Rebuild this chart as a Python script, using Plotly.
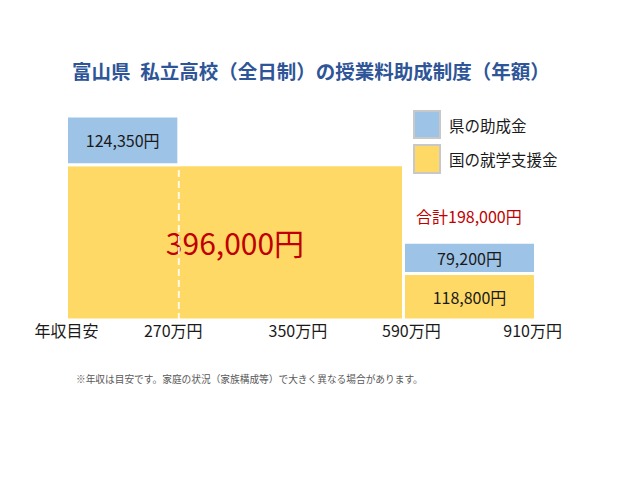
import plotly.graph_objects as go

# schematic income axis (bracket units)
income_labels = ["年収目安", "270万円", "350万円", "590万円", "910万円"]
label_pos = [0, 0.95, 2.06, 3.07, 4.15]

# 国の就学支援金
national_aid = [396000, 118800]
national_from = [0, 3]
national_to = [3, 4.175]

# 県の助成金 (stacked on top of the national aid)
pref_aid = [124350, 79200]
pref_from = [0, 3]
pref_to = [1, 4.175]

BLUE = "#9DC3E6"
YELLOW = "#FFD966"
RED = "#C00000"
FONT = "Noto Sans CJK JP"

W, H = 640, 480
OFF = 8  # page body margin
ML, MR, MT, MB = 36 - OFF, 36 + OFF, 100 - OFF, 160 + OFF


def px_x(px):
    return (px - OFF - ML) / (W - ML - MR)


def px_y(py):
    return (H - MB - (py - OFF)) / (H - MT - MB)


def yen(v):
    return f"{v:,}円"


fig = go.Figure()

fig.add_bar(
    x=[(a + b) / 2 for a, b in zip(national_from, national_to)],
    width=[b - a for a, b in zip(national_from, national_to)],
    y=national_aid,
    base=[0] * len(national_aid),
    marker=dict(color=YELLOW, line=dict(color="white", width=3)),
    text=[yen(v) for v in national_aid],
    textposition="inside",
    insidetextanchor="middle",
    textangle=0,
    constraintext="none",
    textfont=dict(family=FONT, size=[30, 16], color=[RED, "#1a1a1a"]),
    hoverinfo="skip",
    name="国の就学支援金",
)

fig.add_bar(
    x=[(a + b) / 2 for a, b in zip(pref_from, pref_to)],
    width=[b - a for a, b in zip(pref_from, pref_to)],
    y=pref_aid,
    base=national_aid,
    marker=dict(color=BLUE, line=dict(color="white", width=3)),
    text=[yen(v) for v in pref_aid],
    textposition="inside",
    insidetextanchor="middle",
    textangle=0,
    constraintext="none",
    textfont=dict(family=FONT, size=16, color="#1a1a1a"),
    hoverinfo="skip",
    name="県の助成金",
)

# dashed boundary inside the big yellow block
fig.add_shape(
    type="line", xref="x", yref="y",
    x0=pref_to[0], x1=pref_to[0], y0=0, y1=national_aid[0],
    line=dict(color="rgba(255,255,255,0.85)", width=2, dash="7px,4px"),
)

# total for the upper bracket
total = national_aid[1] + pref_aid[1]
fig.add_annotation(
    x=(pref_from[1] + pref_to[1]) / 2, y=total,
    text=f"合計{total:,}円", showarrow=False,
    yanchor="bottom", yshift=12,
    font=dict(family=FONT, size=16, color=RED),
)

# hand-made legend
legend_items = [("県の助成金", BLUE, 111, 138), ("国の就学支援金", YELLOW, 145, 173)]
for label, color, top, bottom in legend_items:
    fig.add_shape(
        type="rect", xref="paper", yref="paper",
        x0=px_x(414), x1=px_x(440), y0=px_y(bottom), y1=px_y(top),
        fillcolor=color, line=dict(color="#C8C8C8", width=2),
    )
    fig.add_annotation(
        xref="paper", yref="paper", x=px_x(447), y=px_y((top + bottom) / 2),
        text=label, showarrow=False, xanchor="left", yanchor="middle",
        font=dict(family=FONT, size=15.5, color="#1a1a1a"),
    )

fig.add_annotation(
    xref="paper", yref="paper", x=px_x(74), y=px_y(379),
    text="※年収は目安です。家庭の状況（家族構成等）で大きく異なる場合があります。",
    showarrow=False, xanchor="left", yanchor="middle",
    font=dict(family=FONT, size=9.7, color="#595959"),
)

fig.update_layout(
    width=W, height=H,
    margin=dict(l=ML, r=MR, t=MT, b=MB),
    paper_bgcolor="white", plot_bgcolor="white",
    showlegend=False,
    barmode="overlay",
    title=dict(
        text="<b>富山県\u2002私立高校（全日制）の授業料助成制度（年額）</b>",
        x=px_x(311) * (W - ML - MR) / W + ML / W, xanchor="center",
        y=1 - (72 - OFF) / H, yanchor="middle",
        font=dict(family=FONT, size=19.5, color="#2E5597"),
    ),
    xaxis=dict(
        range=[-0.2715, 4.785], tickvals=label_pos, ticktext=income_labels,
        showgrid=False, zeroline=False, showline=False, ticks="",
        tickfont=dict(family=FONT, size=16, color="#1a1a1a"),
    ),
    yaxis=dict(
        range=[0, 561000], showticklabels=False,
        showgrid=False, zeroline=False, showline=False,
    ),
)

fig.write_html("out.html")
